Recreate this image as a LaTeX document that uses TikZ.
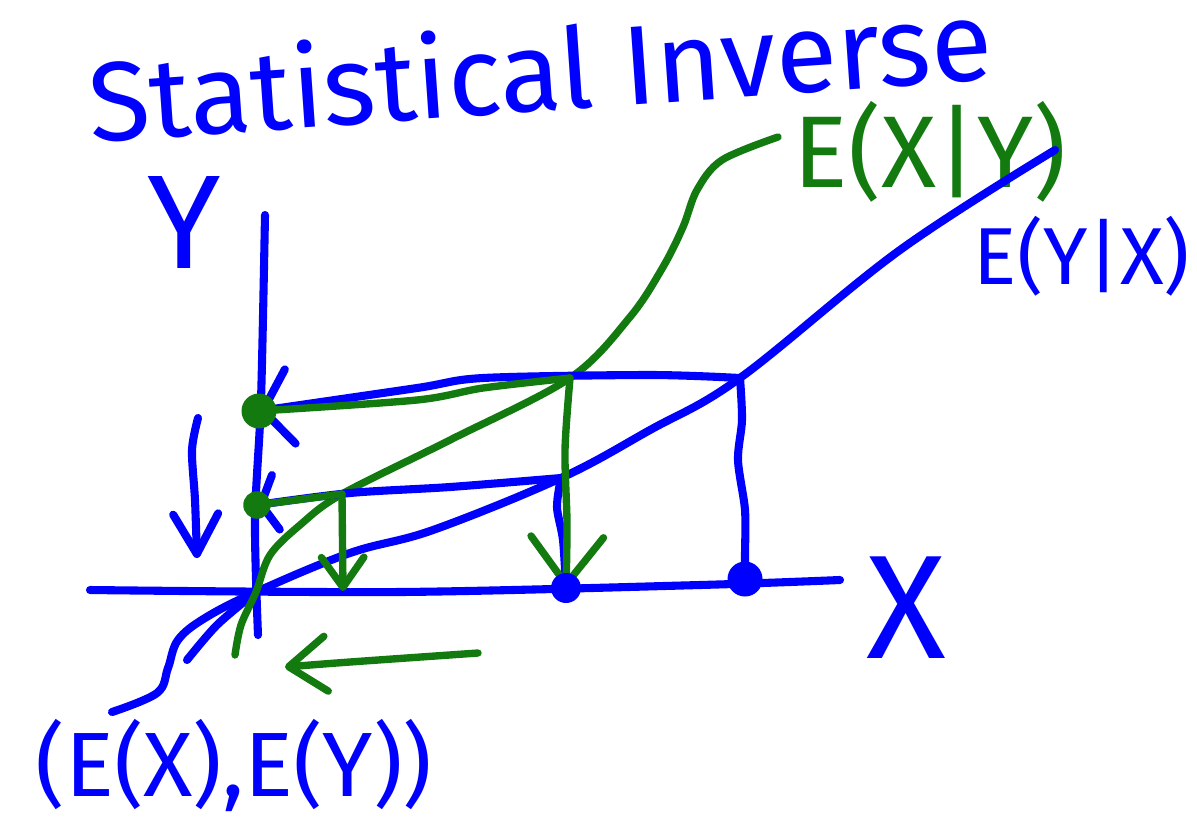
\documentclass[tikz,border=0pt]{standalone}
\usepackage{fontspec}
\setmainfont{Fira Sans}
\usetikzlibrary{arrows.meta}
\definecolor{PenBlue}{HTML}{0000FF}
\definecolor{PenGreen}{HTML}{137A0F}

\begin{document}
\begin{tikzpicture}[x=0.02cm,y=-0.02cm,line cap=round,line join=round,
    bluepen/.style={PenBlue,line width=4.6pt},
    greenpen/.style={PenGreen,line width=4.2pt},
    blob/.style={circle,fill=#1,inner sep=0pt,minimum size=0.7cm},
    hand/.style={inner sep=0pt,font=\fontsize{#1}{#1}\selectfont}]

\useasboundingbox (0,0) rectangle (1197,836);

% Key points (pixel grid, y runs down)
\coordinate (Origin) at (256,592);
\coordinate (YTop) at (265,215);
\coordinate (YBottom) at (258,635);
\coordinate (XLeft) at (90,590);
\coordinate (XRight) at (840,580);
\coordinate (HighFit) at (740,378);
\coordinate (LowFit) at (561,478);
\coordinate (HighInv) at (570,378);
\coordinate (LowInv) at (342,494);
\coordinate (LowInvFoot) at (343,591);
\coordinate (DownStart) at (198,418);
\coordinate (DownTip) at (197,558);
\coordinate (LeftStart) at (478,653);
\coordinate (LeftTip) at (285,667);
% where the dots sit
\coordinate (YHighPt) at (259,411);
\coordinate (YLowPt) at (257,505);
\coordinate (XHighPt) at (745,579);
\coordinate (XLowPt) at (566,588);

% Labels
\node[hand=64pt,text=PenBlue,rotate=4] (Title) at (540,68) {Statistical Inverse};
\node[hand=76pt,text=PenBlue] (YLabel) at (184,222) {Y};
\node[hand=84pt,text=PenBlue] (XLabel) at (906,608) {X};
\node[hand=58pt,text=PenGreen] (InvLabel) at (930,152) {E(X|Y)};
\node[hand=46pt,text=PenBlue] (FitLabel) at (1082,256) {E(Y|X)};
\node[hand=52pt,text=PenBlue] (MeanLabel) at (234,765) {(E(X),E(Y))};

% ---- AXES ----
\draw[bluepen] plot[smooth] coordinates {(YTop) (261,400) (255,520) (YBottom)};
\draw[bluepen] plot[smooth] coordinates {(XLeft) (400,592) (700,585) (XRight)};

% ---- REGRESSION CURVES ----
% E(Y|X)
\draw[bluepen] plot[smooth,tension=0.6] coordinates {(112,712) (157,693) (168,668)
    (178,640) (205,618) (Origin) (350,553) (433,530) (LowFit) (650,430) (HighFit)
    (900,250) (1055,150)};
\draw[bluepen] plot[smooth] coordinates {(187,660) (217,625) (Origin)};
% E(X|Y)
\draw[greenpen] plot[smooth,tension=0.55] coordinates {(235,655) (241,625) (Origin)
    (270,555) (300,525) (LowInv) (450,440) (HighInv) (630,317) (663,267) (683,227)
    (697,190) (722,160) (778,137)};

% ---- PROJECTIONS ----
% blue: read across to the Y axis
\draw[bluepen,-{Straight Barb[round,length=0.55cm,width=1.5cm]}]
    plot[smooth] coordinates {(HighFit) (650,375) (483,378) (417,388) (YHighPt)};
\draw[bluepen,-{Straight Barb[round,length=0.3cm,width=1.1cm]}]
    plot[smooth] coordinates {(LowFit) (450,487) (350,493) (YLowPt)};
\draw[bluepen] plot[smooth] coordinates {(HighFit) (742,420) (738,460) (745,510)
    (745,555) (XHighPt)};
\draw[bluepen] plot[smooth] coordinates {(LowFit) (557,507) (563,540) (XLowPt)};

% green: read down to the X axis
\draw[greenpen] plot[smooth] coordinates {(YHighPt) (417,400) (483,388) (HighInv)};
\draw[greenpen] (YLowPt) -- (LowInv);
\draw[greenpen,-{Straight Barb[round,length=0.95cm,width=1.45cm]}]
    plot[smooth] coordinates {(HighInv) (565,450) (567,523) (XLowPt)};
\draw[greenpen,-{Straight Barb[round,length=0.6cm,width=0.85cm]}]
    (LowInv) -- (LowInvFoot);

% ---- DIRECTION ARROWS ----
\draw[bluepen,-{Straight Barb[round,length=0.8cm,width=0.9cm]}]
    plot[smooth] coordinates {(DownStart) (192,450) (195,500) (DownTip)};
\draw[greenpen,-{Straight Barb[round,length=0.75cm,width=1.1cm]}]
    plot[smooth] coordinates {(LeftStart) (350,662) (LeftTip)};

% Dots on top
\node[blob=PenGreen] (YHigh) at (YHighPt) {};
\node[blob=PenGreen,minimum size=0.55cm] (YLow) at (YLowPt) {};
\node[blob=PenBlue] (XHigh) at (XHighPt) {};
\node[blob=PenBlue,minimum size=0.6cm] (XLow) at (XLowPt) {};

\end{tikzpicture}
\end{document}
